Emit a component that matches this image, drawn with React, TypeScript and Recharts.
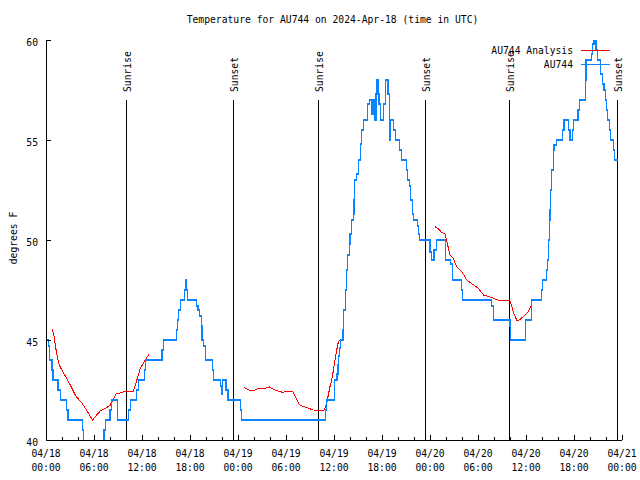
import { LineChart, Line, XAxis, YAxis, ReferenceLine, Legend } from 'recharts';

// hours since 2024-04-18 00:00 UTC
const auHours = [
  0, 0.3, 0.45, 0.75, 0.87, 1.5, 1.8, 2.55, 2.75, 4.55, 4.7, 7.25, 7.45, 8.0, 8.2, 8.95,
  10.3, 10.55, 11.35, 11.55, 12.3, 12.45, 14.5, 14.7, 16.3, 16.45, 16.6, 16.8, 17.3, 17.4,
  17.55, 17.65, 18.8, 19.0, 19.2, 19.4, 19.5, 19.65, 19.9, 20.8, 20.95, 21.8, 21.95, 22.1,
  22.5, 22.75, 24.3, 24.45, 34.95, 35.05, 36.03, 36.38, 36.5, 36.6, 36.67, 36.8, 37.13,
  37.21, 37.42, 37.6, 37.72, 37.93, 38.0, 38.22, 38.4, 38.51, 38.6, 38.85, 39.05, 39.27,
  39.48, 39.69, 40.2, 40.45, 40.74, 40.95, 41.08, 41.25, 41.37, 41.5, 41.62, 41.79, 42.2,
  42.42, 42.75, 42.92, 43.0, 43.46, 43.67, 44.22, 44.43, 45.06, 45.23, 45.4, 45.56, 45.77,
  45.98, 46.48, 46.6, 46.73, 48.0, 48.2, 48.5, 48.8, 49.9, 50.6, 50.8, 51.9, 52.1, 55.7,
  55.9, 57.8, 58.0, 58.1, 59.9, 60.7, 61.9, 62.1, 62.6, 62.7, 62.8, 62.9, 63.0, 63.1, 63.2,
  63.4, 63.5, 63.8, 64.55, 64.75, 65.3, 65.5, 65.8, 65.9, 66.5, 66.65, 67.4, 67.5, 68.2,
  68.35, 68.5, 68.75, 68.95, 69.35, 69.55, 69.75, 69.95, 70.1, 70.2, 70.4, 70.55, 70.9,
  71.05, 71.5,
];
const auTemps = [
  45, 44.7, 44, 43.5, 43, 42.5, 42, 41.5, 41, 40.5, 39, 40.5, 41, 41.5, 42, 41,
  41.5, 42, 42.5, 43, 43.5, 44, 44.5, 45, 45.5, 46, 46.5, 47, 47.5, 48,
  47.5, 47, 46.7, 46.5, 46.2, 45.7, 45, 44.7, 44, 43.5, 43, 42.7, 42.3, 43,
  42.5, 42, 41.5, 41, 41.5, 42, 43, 43.3, 43.75, 44.2, 44.6, 45, 45.5,
  46.5, 47.5, 48.5, 49.25, 49.8, 50.3, 51, 51.3, 52, 53, 53.3, 54, 54.8,
  55.5, 56, 56.8, 57, 56.3, 57, 56, 57.3, 58, 57.3, 56.8, 56, 56.8,
  58, 57.3, 55, 56, 55.5, 55, 54.5, 54, 53.5, 53, 52.7, 52, 51.3,
  51, 50.7, 50.3, 50, 49.4, 49, 49.5, 50, 49, 48.8, 48, 47.5, 47, 46.7,
  46, 46, 45.7, 45, 46, 47, 47.5, 48, 48.5, 49, 50, 51, 51.5, 52.5, 53.5,
  54.5, 54.75, 55, 55.5, 56, 55.5, 55, 55.5, 56, 56.5, 57, 58, 59, 59.3,
  59.8, 60.5, 59.5, 59, 58.3, 57.8, 57.5, 57, 56.5, 56, 55.5, 55, 54.5,
  54, 54,
];

const analysisHours = [
  0.75, 0.96, 1.29, 1.58, 1.8, 2.34, 2.97, 3.72, 4.44, 5.07, 5.82, 6.33, 6.83, 7.37, 8.0,
  8.34, 8.76, 9.47, 10.18, 10.94, 11.36, 11.78, 12.28, 12.9,
  18,
  24.75, 25.4, 25.85, 26.6, 27.3, 27.95, 28.6, 29.6, 30.25, 30.8, 31.3, 31.7, 32.56, 33.4,
  34.74, 35.08, 35.5, 35.72, 35.93, 36.13, 36.34, 36.55, 36.76,
  42,
  48.6, 49.0, 49.45, 49.87, 50.16, 50.5, 50.84, 51.34, 51.97, 52.6, 53.0, 53.65, 54.06,
  54.69, 55.32, 56.16, 56.8, 57.84, 58.05, 58.47, 58.89, 59.31, 59.9, 60.3, 60.7,
];
const analysisTemps = [
  45.53, 45.33, 44.42, 43.83, 43.63, 43.25, 42.8, 42.2, 41.87, 41.5, 41, 41.25, 41.47, 41.58, 41.72,
  42, 42.3, 42.38, 42.45, 42.45, 43, 43.58, 43.92, 44.3,
  null,
  42.63, 42.5, 42.45, 42.58, 42.58, 42.65, 42.5, 42.38, 42.45, 42.45, 42.08, 41.75, 41.62, 41.5,
  41.48, 41.83, 42.67, 43, 43.5, 44, 44.5, 44.92, 45,
  null,
  50.67, 50.58, 50.38, 50.3, 49.83, 49.25, 49.13, 48.67, 48.42, 48, 47.88, 47.7, 47.58,
  47.25, 47.18, 47.05, 46.95, 47, 46.92, 46.33, 45.95, 46.05, 46.25, 46.42, 46.75,
];

const sunHours = [10.0, 23.4, 34.04, 47.46, 57.9, 71.4];
const sunLabels = ['Sunrise', 'Sunset', 'Sunrise', 'Sunset', 'Sunrise', 'Sunset'];

const legendOrder = ['AU744 Analysis', 'AU744'];
const xTicks = Array.from({ length: 37 }, (_, i) => i * 2);
const yTicks = [40, 45, 50, 55, 60];

const auData = auHours.map((t, i) => ({ t, temp: auTemps[i] }));
const analysisData = analysisHours.map((t, i) => ({ t, temp: analysisTemps[i] }));

const FONT = 'DejaVu Sans Mono';
const FS = 9.7;

function dateLabel(t: number) {
  const day = 18 + Math.floor(t / 24);
  const hh = t % 24;
  return [`04/${day}`, `${hh < 10 ? '0' : ''}${hh}:00`];
}

function BottomTick({ x, y, payload }: any) {
  const t = payload.value;
  const major = t % 6 === 0;
  const [d, h] = dateLabel(t);
  return (
    <g>
      <line x1={x} x2={x} y1={y} y2={y - (major ? 5 : 3)} stroke="#000" />
      {major && (
        <text x={x} y={y + 13} textAnchor="middle" dominantBaseline="central" fill="#000" fontFamily={FONT} fontSize={FS}>
          {d}
        </text>
      )}
      {major && (
        <text x={x} y={y + 27} textAnchor="middle" dominantBaseline="central" fill="#000" fontFamily={FONT} fontSize={FS}>
          {h}
        </text>
      )}
    </g>
  );
}

function TopTick({ x, y, payload }: any) {
  const major = payload.value % 6 === 0;
  return <line x1={x} x2={x} y1={y} y2={y + (major ? 5 : 3)} stroke="#000" />;
}

function LeftTick({ x, y, payload }: any) {
  return (
    <g>
      <line x1={x} x2={x + 5} y1={y} y2={y} stroke="#000" />
      <text x={x - 8} y={y + 2} textAnchor="end" dominantBaseline="central" fill="#000" fontFamily={FONT} fontSize={FS}>
        {payload.value}
      </text>
    </g>
  );
}

function RightTick({ x, y }: any) {
  return <line x1={x} x2={x - 5} y1={y} y2={y} stroke="#000" />;
}

function YTitle({ viewBox }: any) {
  const x = viewBox.x + 13;
  const y = viewBox.y + viewBox.height / 2 - 2;
  return (
    <text x={x} y={y} transform={`rotate(-90 ${x} ${y})`} textAnchor="middle" dominantBaseline="central" fill="#000" fontFamily={FONT} fontSize={FS}>
      degrees F
    </text>
  );
}

function SunLabel({ viewBox, text }: any) {
  const x = viewBox.x + 1;
  const y = viewBox.y - 8;
  return (
    <text x={x} y={y} transform={`rotate(-90 ${x} ${y})`} textAnchor="start" dominantBaseline="central" fill="#000" fontFamily={FONT} fontSize={FS}>
      {text}
    </text>
  );
}

function LegendBox({ payload }: any) {
  const items = [...(payload || [])].sort(
    (a: any, b: any) => legendOrder.indexOf(a.value) - legendOrder.indexOf(b.value)
  );
  return (
    <div style={{ fontFamily: FONT, fontSize: FS, color: '#000' }}>
      {items.map((p: any) => (
        <div key={p.value} style={{ display: 'flex', justifyContent: 'flex-end', alignItems: 'center', height: 13.5 }}>
          <span>{p.value}</span>
          <svg width={37} height={13} style={{ display: 'block' }}>
            <line x1={8} x2={37} y1={6.5} y2={6.5} stroke={p.color} strokeWidth={1.3} />
          </svg>
        </div>
      ))}
    </div>
  );
}

export default function App() {
  return (
    <div style={{ position: 'absolute', left: 0, top: 0, width: 640, height: 480, background: '#fff', shapeRendering: 'crispEdges' }}>
      <div
        style={{
          position: 'absolute', left: 0, top: 14, width: 665, height: 12, lineHeight: '12px',
          textAlign: 'center', fontFamily: FONT, fontSize: FS, color: '#000', zIndex: 1,
        }}
      >
        Temperature for AU744 on 2024-Apr-18 (time in UTC)
      </div>
      <LineChart width={640} height={480} margin={{ top: 40, right: 18, bottom: 0, left: 0 }}>
        <XAxis
          xAxisId="b"
          type="number"
          dataKey="t"
          domain={[0, 72]}
          ticks={xTicks}
          interval={0}
          allowDataOverflow
          height={40}
          tickSize={0}
          tickMargin={0}
          tickLine={false}
          axisLine={{ stroke: '#000' }}
          tick={BottomTick}
        />
        <XAxis
          xAxisId="top"
          orientation="top"
          type="number"
          dataKey="t"
          domain={[0, 72]}
          ticks={xTicks}
          interval={0}
          allowDataOverflow
          height={0}
          tickSize={0}
          tickMargin={0}
          tickLine={false}
          axisLine={{ stroke: '#000' }}
          tick={TopTick}
        />
        <YAxis
          yAxisId="l"
          domain={[40, 60]}
          ticks={yTicks}
          interval={0}
          allowDataOverflow
          width={46}
          tickSize={0}
          tickMargin={0}
          tickLine={false}
          axisLine={{ stroke: '#000' }}
          tick={LeftTick}
          label={<YTitle />}
        />
        <YAxis
          yAxisId="r"
          orientation="right"
          domain={[40, 60]}
          ticks={yTicks}
          interval={0}
          allowDataOverflow
          width={0}
          tickSize={0}
          tickMargin={0}
          tickLine={false}
          axisLine={{ stroke: '#000' }}
          tick={RightTick}
        />
        {sunHours.map((t, i) => (
          <ReferenceLine
            key={i}
            xAxisId="b"
            yAxisId="l"
            segment={[{ x: t, y: 40 }, { x: t, y: 57 }]}
            stroke="#000"
            strokeWidth={1}
            label={<SunLabel text={sunLabels[i]} />}
          />
        ))}
        <Legend
          layout="vertical"
          align="center"
          verticalAlign="middle"
          wrapperStyle={{ top: 44, left: 0, width: 610 }}
          content={LegendBox}
        />
        <Line
          xAxisId="b"
          yAxisId="l"
          data={analysisData}
          dataKey="temp"
          name="AU744 Analysis"
          type="linear"
          stroke="#ff0000"
          strokeWidth={1}
          dot={false}
          activeDot={false}
          connectNulls={false}
          isAnimationActive={false}
        />
        <Line
          xAxisId="b"
          yAxisId="l"
          data={auData}
          dataKey="temp"
          name="AU744"
          type="stepAfter"
          stroke="#0a84ff"
          strokeWidth={1.3}
          dot={false}
          activeDot={false}
          isAnimationActive={false}
        />
      </LineChart>
    </div>
  );
}
